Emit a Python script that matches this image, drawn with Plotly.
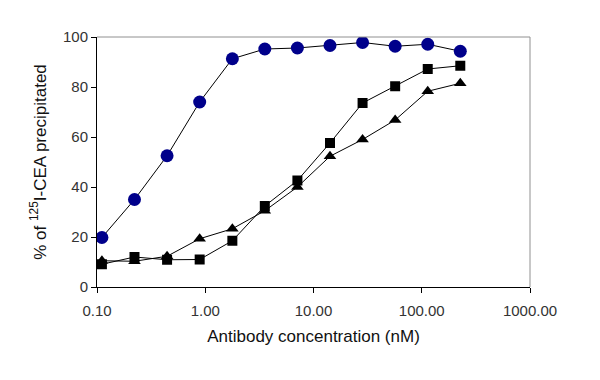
import plotly.graph_objects as go

conc = [0.111, 0.222, 0.444, 0.888, 1.78, 3.55, 7.1, 14.2, 28.4, 56.8, 113.6, 227]
circles = [19.8, 35.0, 52.5, 74.0, 91.3, 95.2, 95.6, 96.6, 97.8, 96.3, 97.1, 94.3]
squares = [9.1, 12.0, 10.9, 11.0, 18.5, 32.4, 42.6, 57.6, 73.6, 80.3, 87.2, 88.5]
triangles = [10.5, 10.3, 12.3, 19.3, 23.3, 30.5, 40.0, 52.3, 59.0, 66.8, 78.3, 81.5]

x_tickvals = [0.1, 1, 10, 100, 1000]
x_ticktext = ["0.10", "1.00", "10.00", "100.00", "1000.00"]
y_tickvals = [0, 20, 40, 60, 80, 100]

fig = go.Figure()
fig.add_trace(go.Scatter(x=conc, y=triangles, mode="lines+markers",
                         line=dict(color="black", width=1),
                         marker=dict(symbol="triangle-up", size=11, color="black"),
                         showlegend=False))
fig.add_trace(go.Scatter(x=conc, y=squares, mode="lines+markers",
                         line=dict(color="black", width=1),
                         marker=dict(symbol="square", size=10, color="black"),
                         showlegend=False))
fig.add_trace(go.Scatter(x=conc, y=circles, mode="lines+markers",
                         line=dict(color="black", width=1),
                         marker=dict(symbol="circle", size=13, color="#00008B"),
                         showlegend=False))

font = "Liberation Sans, Arial, sans-serif"
fig.update_layout(
    width=600, height=380,
    margin=dict(l=89, r=78, t=29, b=101),
    paper_bgcolor="white", plot_bgcolor="white",
    font=dict(family=font, color="#222222", size=15),
    xaxis=dict(type="log", range=[-1, 3], tickvals=x_tickvals, ticktext=x_ticktext,
               showgrid=False, zeroline=False, showline=True, linecolor="black",
               linewidth=1, ticks="outside", ticklen=5, tickcolor="black",
               ticklabelstandoff=5,
               tickfont=dict(size=15, color="#333333"),
               title=dict(text="Antibody concentration (nM)", font=dict(size=17, color="#111111"),
                          standoff=12)),
    yaxis=dict(range=[0, 100], tickvals=y_tickvals, showgrid=False, zeroline=False,
               showline=True, linecolor="black", linewidth=1, ticks="outside",
               ticklen=5, tickcolor="black", tickfont=dict(size=15, color="#333333"),
               title=dict(text="% of <sup>125</sup>I-CEA precipitated",
                          font=dict(size=17, color="#111111"), standoff=12)),
    shapes=[
        dict(type="line", xref="paper", yref="paper", x0=0, x1=1, y0=1, y1=1,
             line=dict(color="#909090", width=1)),
        dict(type="line", xref="paper", yref="paper", x0=1, x1=1, y0=0, y1=1,
             line=dict(color="#909090", width=1)),
    ],
)

fig.write_html("out.html")
